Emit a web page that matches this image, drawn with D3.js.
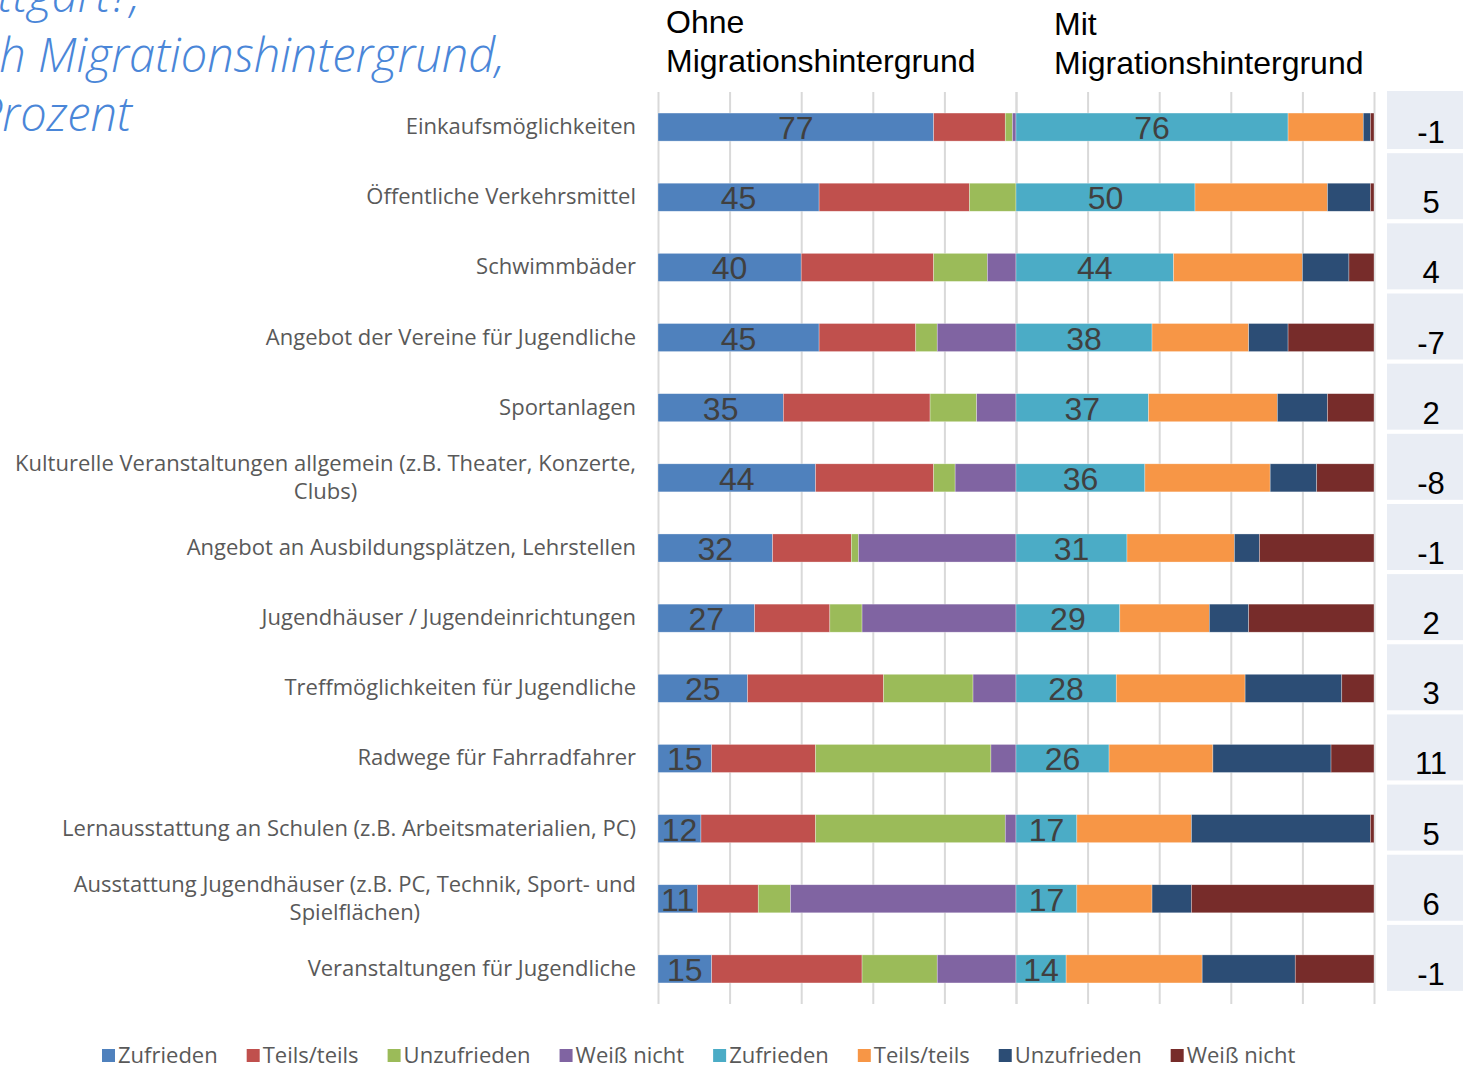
<!DOCTYPE html>
<html>
<head>
<meta charset="utf-8">
<script src="https://cdn.jsdelivr.net/npm/d3@7/dist/d3.min.js"></script>
<style>
  body { margin: 0; background: #fff; }
  svg { display: block; }
</style>
</head>
<body>
<div id="my_dataviz"></div>
<script>

var categories = [
  "Einkaufsmöglichkeiten",
  "Öffentliche Verkehrsmittel",
  "Schwimmbäder",
  "Angebot der Vereine für Jugendliche",
  "Sportanlagen",
  "Kulturelle Veranstaltungen allgemein (z.B. Theater, Konzerte,\nClubs)",
  "Angebot an Ausbildungsplätzen, Lehrstellen",
  "Jugendhäuser / Jugendeinrichtungen",
  "Treffmöglichkeiten für Jugendliche",
  "Radwege für Fahrradfahrer",
  "Lernausstattung an Schulen (z.B. Arbeitsmaterialien, PC)",
  "Ausstattung Jugendhäuser (z.B. PC, Technik, Sport- und\nSpielflächen)",
  "Veranstaltungen für Jugendliche"
];

// ohne Migrationshintergrund
var ohneZufrieden   = [77, 45, 40, 45, 35, 44, 32, 27, 25, 15, 12, 11, 15];
var ohneTeils       = [20, 42, 37, 27, 41, 33, 22, 21, 38, 29, 32, 17, 42];
var ohneUnzufrieden = [ 2, 13, 15,  6, 13,  6,  2,  9, 25, 49, 53,  9, 21];
var ohneWeissNicht  = [ 1,  0,  8, 22, 11, 17, 44, 43, 12,  7,  3, 63, 22];

// mit Migrationshintergrund
var mitZufrieden    = [76, 50, 44, 38, 37, 36, 31, 29, 28, 26, 17, 17, 14];
var mitTeils        = [21, 37, 36, 27, 36, 35, 30, 25, 36, 29, 32, 21, 38];
var mitUnzufrieden  = [ 2, 12, 13, 11, 14, 13,  7, 11, 27, 33, 50, 11, 26];
var mitWeissNicht   = [ 1,  1,  7, 24, 13, 16, 32, 35,  9, 12,  1, 51, 22];

// Differenz Zufrieden (mit - ohne), rechte Spalte
var differenz = [-1, 5, 4, -7, 2, -8, -1, 2, 3, 11, 5, 6, -1];

var seriesNames = ["Zufrieden", "Teils/teils", "Unzufrieden", "Weiß nicht"];
var gridTicks = [0, 20, 40, 60, 80, 100];

var ohneColors = ["#4F81BD", "#C0504D", "#9BBB59", "#8064A2"];
var mitColors  = ["#4BACC6", "#F79646", "#2C4D75", "#772C2A"];

var titleLines = [
  "Wie zufrieden bist du mit folgenden Angeboten in Stuttgart?,",
  "nach Migrationshintergrund,",
  "in Prozent"
];

var W = 1463, H = 1066;
var labelFont = "'Open Sans', 'Noto Sans', sans-serif";
var numFont = "'Liberation Sans', Arial, sans-serif";

var svg = d3.select("#my_dataviz")
  .append("svg")
    .attr("width", W)
    .attr("height", H);

// rows for stacking
var ohneRows = categories.map(function (c, i) {
  return { cat: c, k0: ohneZufrieden[i], k1: ohneTeils[i], k2: ohneUnzufrieden[i], k3: ohneWeissNicht[i] };
});
var mitRows = categories.map(function (c, i) {
  return { cat: c, k0: mitZufrieden[i], k1: mitTeils[i], k2: mitUnzufrieden[i], k3: mitWeissNicht[i] };
});
var keys = ["k0", "k1", "k2", "k3"];

var xOhne = d3.scaleLinear().domain([0, 100]).range([658, 1016]);
var xMit  = d3.scaleLinear().domain([0, 100]).range([1016, 1374]);

var y = d3.scaleBand()
  .domain(categories)
  .range([92, 1004])
  .paddingInner(0.6)
  .paddingOuter(0.3);

// gridlines
[xOhne, xMit].forEach(function (xs) {
  svg.append("g")
    .attr("transform", "translate(0,1004)")
    .call(d3.axisBottom(xs).tickValues(gridTicks).tickSize(-(1004 - 92)).tickFormat(""))
    .call(function (g) {
      g.select(".domain").remove();
      g.selectAll(".tick line").attr("stroke", "#d9d9d9").attr("stroke-width", 2);
    });
});

// stacked bars
function drawGroup(rows, xs, colors) {
  var stacked = d3.stack().keys(keys)(rows);
  svg.append("g")
    .selectAll("g")
    .data(stacked)
    .enter()
    .append("g")
      .attr("fill", function (d, i) { return colors[i]; })
    .selectAll("rect")
    .data(function (d) { return d; })
    .enter()
    .append("rect")
      .attr("x", function (d) { return xs(d[0]); })
      .attr("y", function (d) { return y(d.data.cat); })
      .attr("height", y.bandwidth())
      .attr("width", function (d) { return Math.max(0, xs(d[1]) - xs(d[0])); })
      .attr("stroke", "#ffffff")
      .attr("stroke-opacity", 0.5)
      .attr("stroke-width", 0.6);

  // value label for "Zufrieden"
  svg.append("g")
    .selectAll("text")
    .data(rows)
    .enter()
    .append("text")
      .attr("x", function (d) { return xs(d.k0 / 2); })
      .attr("y", function (d) { return y(d.cat) + y.bandwidth() / 2 + 12; })
      .attr("text-anchor", "middle")
      .attr("font-family", numFont)
      .attr("font-size", 32)
      .attr("fill", "#404040")
      .text(function (d) { return d.k0; });
}
drawGroup(ohneRows, xOhne, ohneColors);
drawGroup(mitRows, xMit, mitColors);

// category labels
var labels = svg.append("g")
  .attr("font-family", labelFont)
  .attr("font-size", 22)
  .attr("fill", "#595959");

categories.forEach(function (c) {
  var lines = c.split("\n");
  var cy = y(c) + y.bandwidth() / 2;
  if (lines.length === 1) {
    labels.append("text")
      .attr("x", 636)
      .attr("y", cy + 7)
      .attr("text-anchor", "end")
      .text(c);
  } else {
    var t = labels.append("text").attr("text-anchor", "middle");
    lines.forEach(function (l, j) {
      t.append("tspan").attr("y", cy - 14 + 7 + j * 28).text(l);
    });
    var w = d3.max(t.selectAll("tspan").nodes(), function (n) { return n.getComputedTextLength(); });
    t.selectAll("tspan").attr("x", 636 - w / 2);
  }
});

// difference column (table cells next to the bars)
var diffRows = categories.map(function (c, i) { return { cat: c, v: differenz[i] }; });
var diff = svg.append("g");
diff.selectAll("rect")
  .data(diffRows)
  .enter()
  .append("rect")
    .attr("x", 1387)
    .attr("width", W - 1387)
    .attr("y", function (d) { return Math.max(91, y(d.cat) - 30); })
    .attr("height", function (d) { return y(d.cat) + 36 - Math.max(91, y(d.cat) - 30); })
    .attr("fill", "#E9EDF4");
diff.selectAll("text")
  .data(diffRows)
  .enter()
  .append("text")
    .attr("x", 1431)
    .attr("y", function (d) { return y(d.cat) + y.bandwidth() / 2 + 16; })
    .attr("text-anchor", "middle")
    .attr("font-family", numFont)
    .attr("font-size", 31)
    .attr("fill", "#000")
    .text(function (d) { return d.v; });

// column headers
var head = svg.append("g")
  .attr("font-family", numFont)
  .attr("font-size", 32)
  .attr("fill", "#000");
head.append("text").attr("x", 666).attr("y", 33).text("Ohne");
head.append("text").attr("x", 666).attr("y", 72).text("Migrationshintergrund");
head.append("text").attr("x", 1054).attr("y", 35).text("Mit");
head.append("text").attr("x", 1054).attr("y", 74).text("Migrationshintergrund");

// title (cut off on the left)
var titleEnds = [140, 505, 132];
var titleBase = [12, 72, 131];
svg.append("g")
  .attr("font-family", labelFont)
  .attr("font-style", "italic")
  .attr("font-weight", 300)
  .attr("font-size", 47)
  .attr("fill", "#4A86D8")
  .selectAll("text")
  .data(titleLines)
  .enter()
  .append("text")
    .attr("x", function (d, i) { return titleEnds[i]; })
    .attr("y", function (d, i) { return titleBase[i]; })
    .attr("text-anchor", "end")
    .text(function (d) { return d; });

// legend
var legendItems = seriesNames.map(function (n, i) { return { name: n, color: ohneColors[i] }; })
  .concat(seriesNames.map(function (n, i) { return { name: n, color: mitColors[i] }; }));
var legend = svg.append("g")
  .attr("font-family", labelFont)
  .attr("font-size", 22)
  .attr("fill", "#595959");
var lx = 102;
legendItems.forEach(function (it) {
  legend.append("rect")
    .attr("x", lx).attr("y", 1049)
    .attr("width", 13).attr("height", 13)
    .attr("fill", it.color);
  var t = legend.append("text")
    .attr("x", lx + 16).attr("y", 1063)
    .text(it.name);
  lx += 16 + t.node().getComputedTextLength() + 29;
});

</script>
</body>
</html>
